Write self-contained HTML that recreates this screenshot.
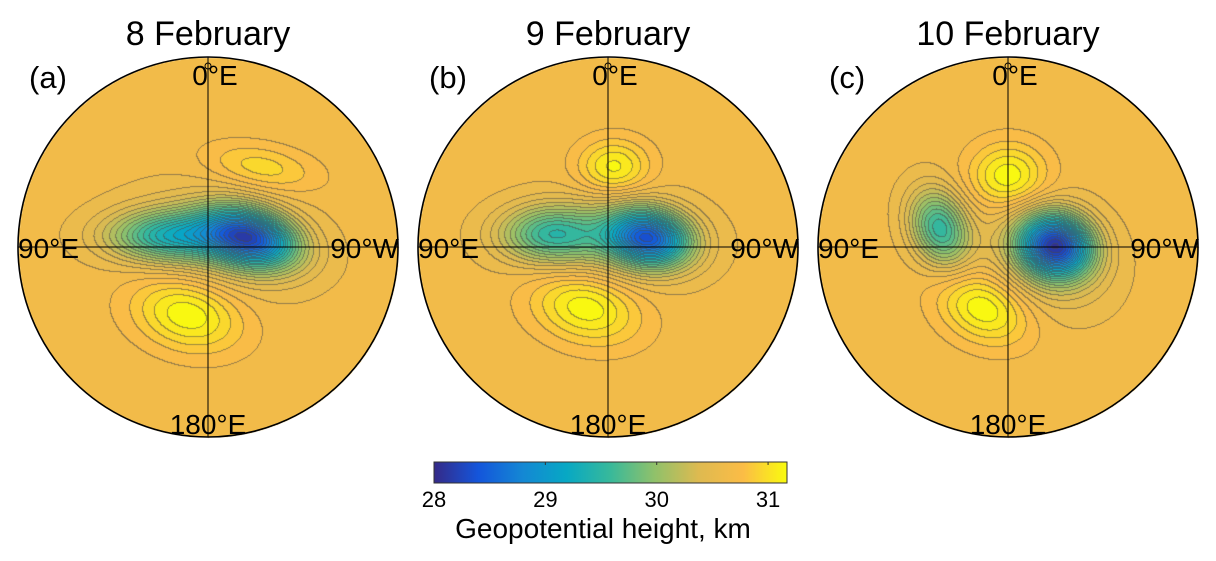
<!DOCTYPE html>
<html><head><meta charset="utf-8"><style>
html,body{margin:0;padding:0;background:#fff;}
#wrap{position:relative;width:1216px;height:561px;overflow:hidden;font-family:"Liberation Sans",sans-serif;}
canvas,svg{position:absolute;left:0;top:0;}
</style></head><body>
<div id="wrap">
<canvas id="cv" width="1216" height="561"></canvas>
<svg id="ov" width="1216" height="561"></svg>
</div>
<script>
// ---- data ----
const panelTitles = ["8 February", "9 February", "10 February"];
const panelLetters = ["(a)", "(b)", "(c)"];
const baseHeight = [30.64, 30.64, 30.64];
// Gaussian anomaly blobs per panel (normalized polar-cap coords)
const blobU   = [[0.22,-0.20,0.05,-0.11,0.28],[0.21,-0.30,0.00,-0.12,0.03],[0.25,0.20,-0.36,0.00,-0.13]];
const blobV   = [[-0.05,-0.06,-0.03,0.35,-0.42],[-0.05,-0.07,-0.03,0.31,-0.42],[-0.01,0.05,-0.10,-0.37,0.32]];
const blobAmp = [[-2.0,-1.1,-0.35,0.55,0.32],[-2.0,-0.95,-0.35,0.55,0.5],[-2.2,-0.4,-1.1,0.55,0.55]];
const blobSx  = [[0.17,0.22,0.30,0.20,0.20],[0.15,0.18,0.30,0.20,0.13],[0.13,0.22,0.10,0.14,0.17]];
const blobSy  = [[0.10,0.09,0.17,0.13,0.08],[0.10,0.10,0.16,0.13,0.10],[0.11,0.17,0.14,0.12,0.12]];
const blobRot = [[15,0,10,15,10],[10,0,0,15,0],[15,30,-20,0,25]];
const cbTicks = [28, 29, 30, 31];
const cbMin = 28, cbMax = 31.17, contourStep = 0.1;
const parula = [[0,[53,42,135]],[0.125,[20,85,219]],[0.25,[20,135,212]],[0.375,[7,168,196]],[0.5,[56,185,154]],[0.625,[144,193,106]],[0.75,[222,186,80]],[0.875,[251,188,70]],[1,[249,251,14]]];

const cx0 = [208, 608, 1008], cy = 247, R = 190;
function colorAt(t){t=Math.max(0,Math.min(1,t));for(let i=1;i<parula.length;i++){if(t<=parula[i][0]){const a=parula[i-1],b=parula[i];const f=(t-a[0])/(b[0]-a[0]);return a[1].map((c,k)=>Math.round(c+(b[1][k]-c)*f));}}return parula[parula.length-1][1];}
function field(p,u,v){let s=baseHeight[p];for(let i=0;i<blobU[p].length;i++){const r=blobRot[p][i]*Math.PI/180;const du=u-blobU[p][i],dv=v-blobV[p][i];const a=du*Math.cos(r)+dv*Math.sin(r),b=-du*Math.sin(r)+dv*Math.cos(r);s+=blobAmp[p][i]*Math.exp(-(a*a/(2*blobSx[p][i]**2)+b*b/(2*blobSy[p][i]**2)));}return s;}

const cv=document.getElementById('cv'),ctx=cv.getContext('2d');
const img=ctx.createImageData(1216,561),d=img.data;
for(let i=0;i<d.length;i+=4){d[i]=d[i+1]=d[i+2]=255;d[i+3]=255;}
for(let p=0;p<3;p++){
  const W=2*R+2;const lv=new Int16Array(W*W).fill(-999);
  for(let j=0;j<W;j++)for(let i=0;i<W;i++){const x=i-R-1,y=j-R-1;if(x*x+y*y<=R*R){lv[j*W+i]=Math.floor((field(p,x/R,y/R)-cbMin)/contourStep);}}
  for(let j=0;j<W;j++)for(let i=0;i<W;i++){const L=lv[j*W+i];if(L===-999)continue;
    const X=cx0[p]+i-R-1,Y=cy+j-R-1;if(X<0||X>=1216||Y<0||Y>=561)continue;
    let c=colorAt(((L+0.5)*contourStep)/(cbMax-cbMin));
    const r2=i+1<W?lv[j*W+i+1]:L,b2=j+1<W?lv[(j+1)*W+i]:L;
    if((r2!==-999&&r2!==L)||(b2!==-999&&b2!==L))c=c.map(v=>Math.round(v*0.45+40));
    const k=(Y*1216+X)*4;d[k]=c[0];d[k+1]=c[1];d[k+2]=c[2];}
}
ctx.putImageData(img,0,0);

const NS="http://www.w3.org/2000/svg",ov=document.getElementById('ov');
function mk(tag,attrs,txt){const e=document.createElementNS(NS,tag);for(const k in attrs)e.setAttribute(k,attrs[k]);if(txt!==undefined)e.textContent=txt;ov.appendChild(e);return e;}
for(let p=0;p<3;p++){
  const cx=cx0[p];
  let e=mk('circle',{cx:cx,cy:cy,r:R,fill:'none',stroke:'#000','stroke-width':1.6});
  
  
  e=mk('line',{x1:cx,y1:cy-R,x2:cx,y2:cy+R,stroke:'#000','stroke-width':1});
  
  
  e=mk('line',{x1:cx-R,y1:cy,x2:cx+R,y2:cy,stroke:'#000','stroke-width':1});
  
  
  e=mk('circle',{cx:cx,cy:cy-R+9,r:3,fill:'none',stroke:'#000','stroke-width':1});
  
  
  e=mk('text',{x:cx,y:45,'font-size':34,'text-anchor':'middle'},panelTitles[p]);
  
  
  e=mk('text',{x:cx-179,y:88,'font-size':31},panelLetters[p]);
  
  
  e=mk('text',{x:cx+7,y:85,'font-size':28,'text-anchor':'middle'},'0°E');
  
  
  e=mk('text',{x:cx-R,y:258,'font-size':28},'90°E');
  
  
  e=mk('text',{x:cx+R+1,y:258,'font-size':28,'text-anchor':'end'},'90°W');
  
  
  e=mk('text',{x:cx,y:434,'font-size':28,'text-anchor':'middle'},'180°E');
  
  
}
// colorbar
const cbX0=434,cbX1=787,cbY=462,cbH=21;
const xs=v=>cbX0+(v-cbMin)/(cbMax-cbMin)*(cbX1-cbX0);
const defs=mk('defs',{});const g=document.createElementNS(NS,'linearGradient');g.setAttribute('id','par');defs.appendChild(g);
parula.forEach(s=>{const st=document.createElementNS(NS,'stop');st.setAttribute('offset',s[0]);st.setAttribute('stop-color','rgb('+s[1].join(',')+')');g.appendChild(st);});
let e=mk('rect',{x:cbX0,y:cbY,width:cbX1-cbX0,height:cbH,fill:'url(#par)',stroke:'#333','stroke-width':1});


cbTicks.forEach(t=>{
  let l=mk('line',{x1:xs(t),y1:cbY,x2:xs(t),y2:cbY+3,stroke:'#333'});
  
  
  let tx=mk('text',{x:xs(t),y:507,'font-size':22,'text-anchor':'middle'},String(t));
  
  
});
e=mk('text',{x:603,y:538,'font-size':28,'text-anchor':'middle'},'Geopotential height, km');


</script>
</body></html>
